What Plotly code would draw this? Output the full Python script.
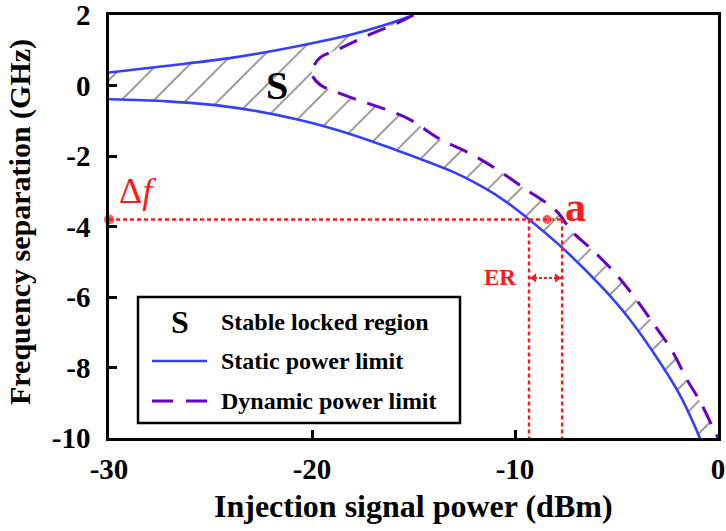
import plotly.graph_objects as go

# ---- data -------------------------------------------------------------
# Static power limit, upper branch (dBm, GHz)
static_up_x = [-30.0, -27.1, -23.9, -20.6, -18.1, -16.5, -15.0]
static_up_y = [0.37, 0.56, 0.79, 1.13, 1.44, 1.70, 2.0]

# Static power limit, lower branch
static_lo_x = [-30.0, -27.1, -23.9, -20.6, -18.1, -16.0, -13.05, -12.07,
               -10.74, -9.31, -7.64, -5.67, -4.48, -3.25, -1.87, -0.89]
static_lo_y = [-0.39, -0.45, -0.62, -0.98, -1.38, -1.80, -2.45, -2.73,
               -3.18, -3.80, -4.62, -5.75, -6.54, -7.52, -8.79, -10.0]

# Dynamic power limit, traced from the upper end through the cusp to the lower end
dyn_x = [-15.0, -15.8, -17.3, -18.77, -19.6, -19.95, -20.0, -19.6, -19.0,
         -17.7, -16.35, -15.2, -13.7, -12.35, -11.08, -9.51, -7.98, -7.19,
         -6.16, -5.03, -4.04, -3.10, -2.27, -1.53, -0.84, -0.15, 0.0]
dyn_y = [2.0, 1.77, 1.41, 1.01, 0.79, 0.50, 0.30, 0.02, -0.14,
         -0.42, -0.68, -0.96, -1.52, -1.89, -2.31, -2.93, -3.55, -4.14,
         -4.68, -5.35, -6.06, -6.82, -7.52, -8.34, -9.01, -9.83, -10.0]

# Operating point "a" and the extinction-ratio window
delta_f = -3.8          # GHz
p_static = -9.31        # dBm, static limit at delta_f
p_dynamic = -7.68       # dBm, dynamic limit at delta_f
p_a = -8.42             # dBm, point a
er_level = -5.46        # GHz, height of the ER arrow

x_ticks = [-30, -20, -10, 0]
x_tick_text = ["-30", "-20", "-10", "0"]
y_ticks = [2, 0, -2, -4, -6, -8, -10]
y_tick_text = ["2", "0", "-2", "-4", "-6", "-8", "-10"]

# ---- styling ----------------------------------------------------------
SERIF = "Times New Roman, Liberation Serif, Tinos, serif"
BLUE = "#3540ff"
PURPLE = "#6600cc"
RED = "#ff1a1a"
X0, X1 = -30, 0
Y0, Y1 = -10, 2

# plot-area geometry in pixels (used for the legend box placement)
M_LEFT, M_RIGHT, M_TOP, M_BOTTOM = 109, 8, 15, 93
PLOT_W = 726 - M_LEFT - M_RIGHT
PLOT_H = 531 - M_TOP - M_BOTTOM
PLOT_BOTTOM = 531 - M_BOTTOM

fig = go.Figure()

# hatched stable locked region
poly_x = static_up_x + dyn_x + static_lo_x[::-1]
poly_y = static_up_y + dyn_y + static_lo_y[::-1]
fig.add_trace(go.Scatter(
    x=poly_x, y=poly_y, mode="lines", fill="toself",
    line=dict(width=0, shape="spline"),
    fillcolor="rgba(0,0,0,0)",
    fillpattern=dict(shape="/", size=23, solidity=0.07,
                     fgcolor="#111111", bgcolor="rgba(0,0,0,0)"),
    hoverinfo="skip", showlegend=False))

# static power limit
fig.add_trace(go.Scatter(x=static_up_x, y=static_up_y, mode="lines",
                         line=dict(color=BLUE, width=2.6, shape="spline"),
                         showlegend=False))
fig.add_trace(go.Scatter(x=static_lo_x, y=static_lo_y, mode="lines",
                         line=dict(color=BLUE, width=2.6, shape="spline"),
                         showlegend=False))

# dynamic power limit
fig.add_trace(go.Scatter(x=dyn_x, y=dyn_y, mode="lines",
                         line=dict(color=PURPLE, width=3, shape="spline",
                                   dash="19px,12px"),
                         showlegend=False))

# red guide lines
dot = dict(color=RED, width=2.4, dash="4px,3px")
fig.add_trace(go.Scatter(x=[X0, p_dynamic], y=[delta_f, delta_f], mode="lines",
                         line=dot, showlegend=False))
fig.add_trace(go.Scatter(x=[p_static, p_static], y=[delta_f, Y0], mode="lines",
                         line=dot, showlegend=False))
fig.add_trace(go.Scatter(x=[p_dynamic, p_dynamic], y=[delta_f, Y0], mode="lines",
                         line=dot, showlegend=False))

# ER double arrow
fig.add_trace(go.Scatter(x=[p_static, p_dynamic], y=[er_level, er_level],
                         mode="lines", line=dict(color=RED, width=2, dash="3px,2px"),
                         showlegend=False))
fig.add_trace(go.Scatter(x=[p_static + 0.25, p_dynamic - 0.25],
                         y=[er_level, er_level], mode="markers",
                         marker=dict(symbol=["triangle-left", "triangle-right"],
                                     size=8, color=RED),
                         showlegend=False))

# markers on the axis and at point a
fig.add_trace(go.Scatter(x=[X0, p_a], y=[delta_f, delta_f], mode="markers",
                         marker=dict(color=RED, size=[11, 10]),
                         cliponaxis=False, showlegend=False))

annotations = [
    dict(x=-21.72, y=0.0, text="S", showarrow=False,
         font=dict(family=SERIF, size=40, color="black", weight="bold")),
    dict(x=-7.04, y=-3.44, text="a", showarrow=False,
         font=dict(family=SERIF, size=42, color=RED, weight="bold")),
    dict(x=-28.57, y=-3.0, text="Δ<i>f</i>", showarrow=False,
         font=dict(family=SERIF, size=36, color=RED)),
    dict(x=-10.74, y=er_level, text="ER", showarrow=False,
         font=dict(family=SERIF, size=23, color=RED, weight="bold")),
]


def px_x(p):
    return (p - M_LEFT) / PLOT_W


def px_y(p):
    return (PLOT_BOTTOM - p) / PLOT_H


# axis titles
annotations += [
    dict(xref="paper", yref="paper", x=px_x(413), y=px_y(506),
         text="Injection signal power (dBm)",
         showarrow=False, xanchor="center", yanchor="middle",
         font=dict(family=SERIF, size=32, color="black", weight="bold")),
    dict(xref="paper", yref="paper", x=px_x(20), y=px_y(222),
         text="Frequency separation (GHz)",
         showarrow=False, textangle=-90, xanchor="center", yanchor="middle",
         font=dict(family=SERIF, size=30, color="black", weight="bold")),
]

# legend box
shapes = [
    dict(type="rect", xref="paper", yref="paper",
         x0=px_x(138), x1=px_x(460), y0=px_y(423), y1=px_y(297),
         line=dict(color="black", width=2.5), fillcolor="white", layer="above"),
    dict(type="line", xref="paper", yref="paper",
         x0=px_x(152), x1=px_x(207), y0=px_y(361), y1=px_y(361),
         line=dict(color=BLUE, width=2.6), layer="above"),
    dict(type="line", xref="paper", yref="paper",
         x0=px_x(152), x1=px_x(207), y0=px_y(401), y1=px_y(401),
         line=dict(color=PURPLE, width=3, dash="21px,13px"), layer="above"),
]
legend_rows = [("Stable locked region", 322), ("Static power limit", 361),
               ("Dynamic power limit", 401)]
annotations.append(dict(xref="paper", yref="paper", x=px_x(180), y=px_y(322),
                        text="S", showarrow=False, xanchor="center", yanchor="middle",
                        font=dict(family=SERIF, size=32, color="black", weight="bold")))
for label, row_y in legend_rows:
    annotations.append(dict(xref="paper", yref="paper", x=px_x(219), y=px_y(row_y),
                            text=label, showarrow=False, xanchor="left", yanchor="middle",
                            font=dict(family=SERIF, size=24, color="black", weight="bold")))

axis_common = dict(showline=True, linecolor="black", linewidth=2.5, mirror=True,
                   ticks="inside", ticklen=8, tickwidth=2.5, tickcolor="black",
                   showgrid=False, zeroline=False, ticklabeloverflow="allow",
                   automargin=False,
                   tickfont=dict(family=SERIF, size=29, color="black", weight="bold"))

fig.update_layout(
    width=726, height=531,
    margin=dict(l=M_LEFT, r=M_RIGHT, t=M_TOP, b=M_BOTTOM),
    paper_bgcolor="white", plot_bgcolor="white",
    xaxis=dict(range=[X0, X1], tickvals=x_ticks, ticktext=x_tick_text,
               ticklabelstandoff=3, **axis_common),
    yaxis=dict(range=[Y0, Y1], tickvals=y_ticks, ticktext=y_tick_text,
               ticklabelstandoff=10, **axis_common),
    annotations=annotations,
    shapes=shapes,
    showlegend=False,
)

fig.write_html("out.html")
